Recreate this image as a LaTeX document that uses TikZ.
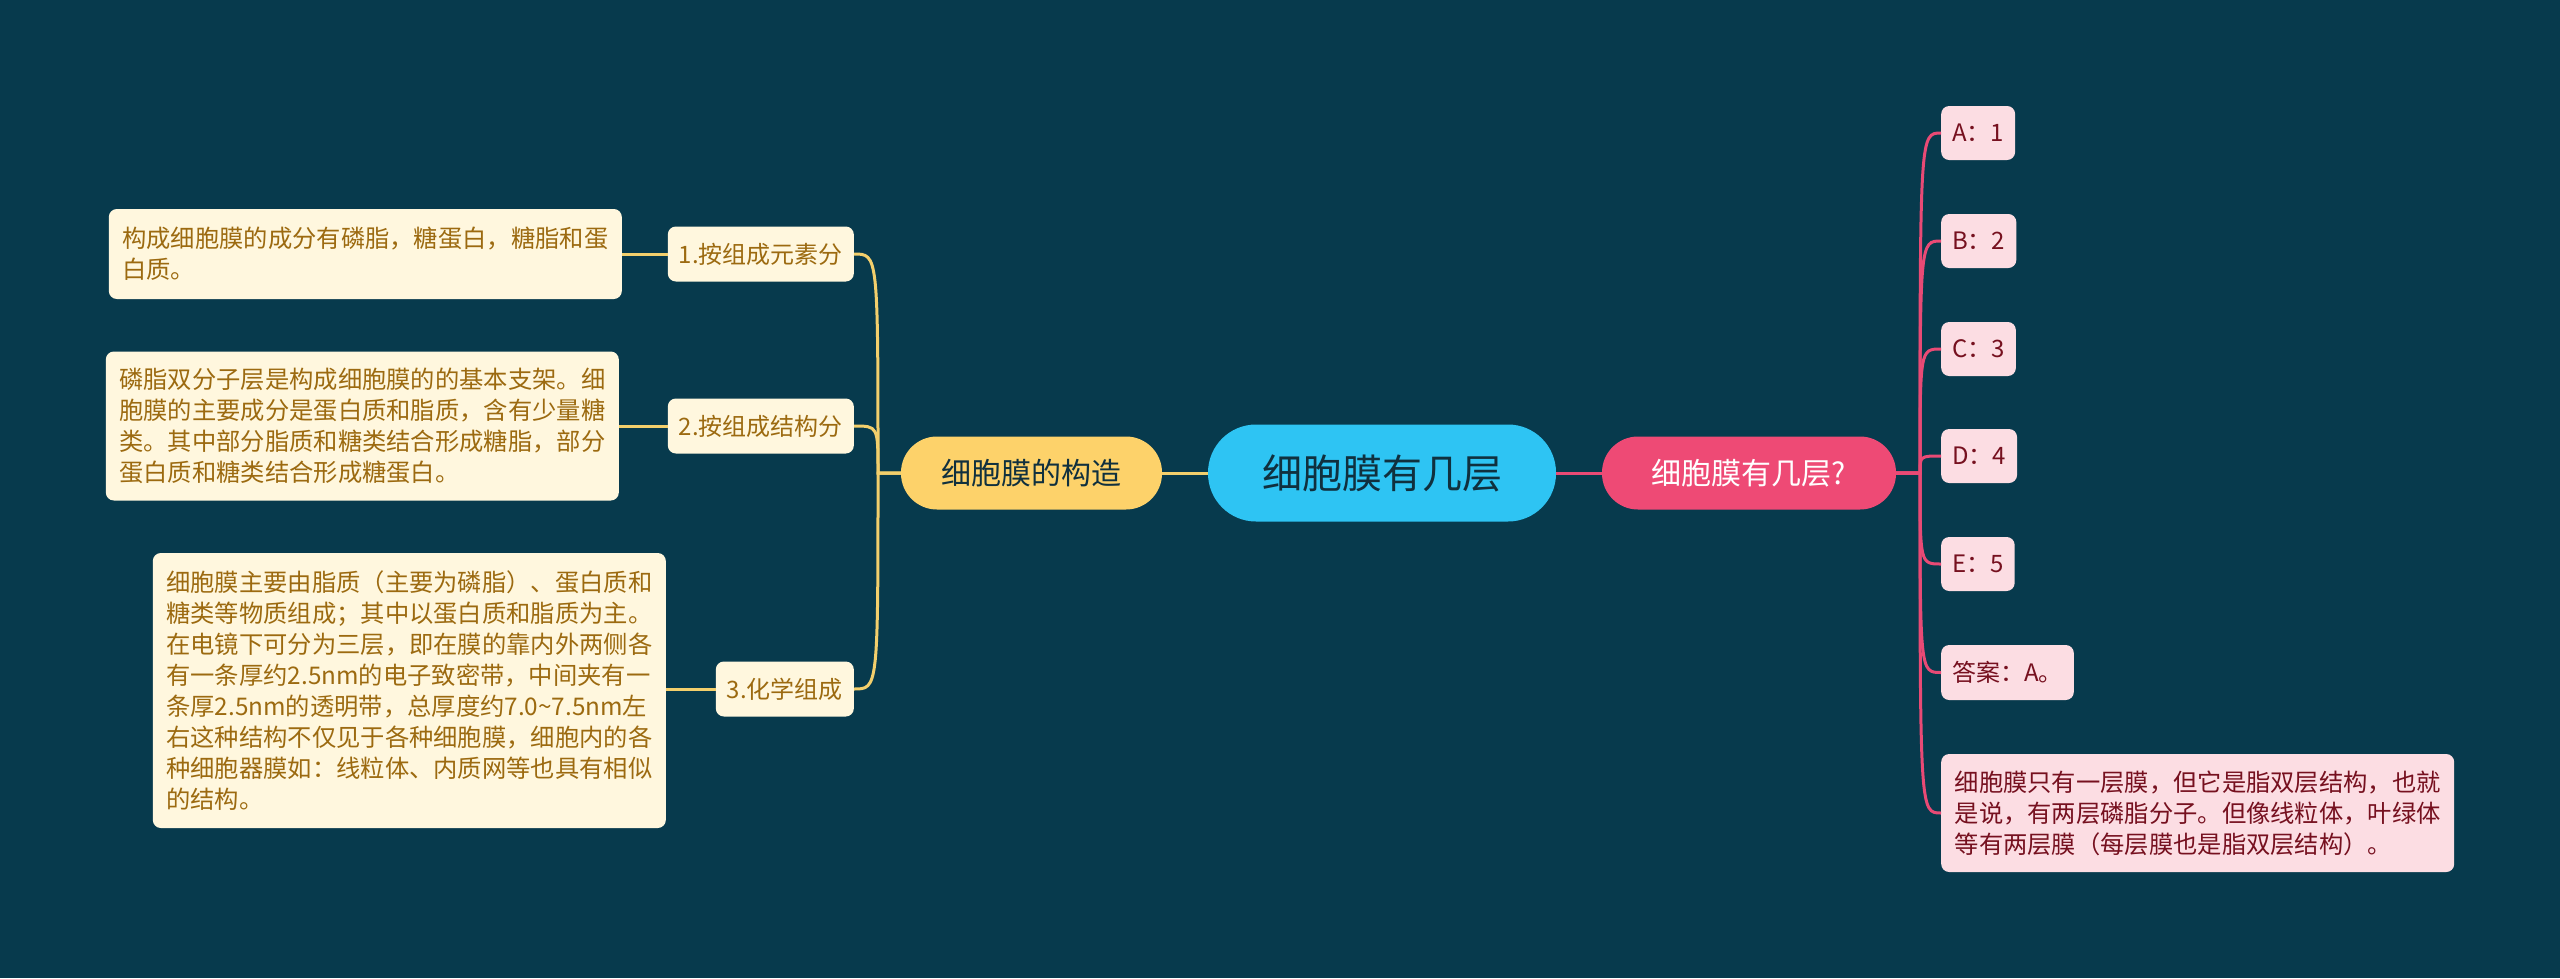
\documentclass[tikz,border=0pt]{standalone}
\usepackage{fontspec}
\setmainfont{Noto Sans CJK SC}
\definecolor{bg}{HTML}{073A4D}
\definecolor{rootc}{HTML}{2EC4F3}
\definecolor{roottxt}{HTML}{10303E}
\definecolor{yel}{HTML}{FDD26A}
\definecolor{yline}{HTML}{F3CF6C}
\definecolor{cream}{HTML}{FFF7DE}
\definecolor{brn}{HTML}{9C6A10}
\definecolor{pinkm}{HTML}{EE4A75}
\definecolor{pline}{HTML}{E94A75}
\definecolor{pinkl}{HTML}{FCDDE3}
\definecolor{dred}{HTML}{76101F}
\begin{document}
\begin{tikzpicture}[x=1pt,y=-1pt,
  rootbox/.style={fill=rootc,text=roottxt,rounded corners=48pt,minimum width=348pt,minimum height=97pt,inner sep=0pt,font=\fontsize{40}{48}\selectfont},
  mainbox/.style={rounded corners=36pt,minimum height=73pt,inner sep=0pt,font=\fontsize{30}{36}\selectfont},
  subbox/.style={fill=cream,text=brn,rounded corners=8pt,minimum height=55pt,inner xsep=11pt,inner ysep=0pt,font=\fontsize{24}{31}\selectfont},
  leafl/.style={fill=cream,text=brn,rounded corners=8pt,align=left,text width=486pt,inner xsep=13.5pt,inner ysep=0pt,font=\fontsize{24.3}{31}\selectfont},
  leafr/.style={fill=pinkl,text=dred,rounded corners=8pt,minimum height=54pt,inner xsep=11pt,inner ysep=0pt,font=\fontsize{24}{31}\selectfont},
  leafrl/.style={fill=pinkl,text=dred,rounded corners=8pt,align=left,text width=486pt,inner xsep=13.5pt,inner ysep=0pt,font=\fontsize{24.3}{31}\selectfont},
  yconn/.style={draw=yline,line width=3pt},
  pconn/.style={draw=pline,line width=3pt}]
\fill[bg] (0,0) rectangle (2560,978);
\useasboundingbox (0,0) rectangle (2560,978);

% central
\node[rootbox] (root) at (1382,473) {细胞膜有几层};
\node[mainbox,fill=yel,text=roottxt,minimum width=261pt] (gz) at (1031.5,473) {细胞膜的构造};
\node[mainbox,fill=pinkm,text=white,minimum width=294pt] (jc) at (1749,473) {细胞膜有几层?};

% left subs
\node[subbox,anchor=east] (s1) at (854,254) {1.按组成元素分};
\node[subbox,anchor=east] (s2) at (854,426) {2.按组成结构分};
\node[subbox,anchor=east] (s3) at (854,689) {3.化学组成};

% left leaves
\node[leafl,anchor=east,minimum height=90pt] (l1) at (622,254) {构成细胞膜的成分有磷脂，糖蛋白，糖脂和蛋\\白质。};
\node[leafl,anchor=east,minimum height=149pt] (l2) at (619,426) {磷脂双分子层是构成细胞膜的的基本支架。细\\胞膜的主要成分是蛋白质和脂质，含有少量糖\\类。其中部分脂质和糖类结合形成糖脂，部分\\蛋白质和糖类结合形成糖蛋白。};
\node[leafl,anchor=east,minimum height=275pt] (l3) at (666,690.5) {细胞膜主要由脂质（主要为磷脂）、蛋白质和\\糖类等物质组成；其中以蛋白质和脂质为主。\\在电镜下可分为三层，即在膜的靠内外两侧各\\有一条厚约2.5nm的电子致密带，中间夹有一\\条厚2.5nm的透明带，总厚度约7.0\textasciitilde7.5nm左\\右这种结构不仅见于各种细胞膜，细胞内的各\\种细胞器膜如：线粒体、内质网等也具有相似\\的结构。};

% right leaves
\node[leafr,anchor=west] (ra) at (1941,133) {A：1};
\node[leafr,anchor=west] (rb) at (1941,241) {B：2};
\node[leafr,anchor=west] (rc) at (1941,349) {C：3};
\node[leafr,anchor=west] (rd) at (1941,456) {D：4};
\node[leafr,anchor=west] (re) at (1941,564) {E：5};
\node[leafr,anchor=west,minimum height=55pt] (rf) at (1941,672.5) {答案：A。};
\node[leafrl,anchor=west,minimum height=118pt] (rg) at (1941,813) {细胞膜只有一层膜，但它是脂双层结构，也就\\是说，有两层磷脂分子。但像线粒体，叶绿体\\等有两层膜（每层膜也是脂双层结构）。};

% connectors
\coordinate (lt) at (878,473);
\coordinate (rt) at (1920,473);
\draw[yconn] (root.west) -- (gz.east);
\draw[pconn] (root.east) -- (jc.west);
\foreach \n in {s1,s2,s3}{
  \draw[yconn] (gz.west) -- (lt) .. controls (lt |- \n.east) .. (\n.east);
}
\draw[yconn] (s1.west) -- (l1.east);
\draw[yconn] (s2.west) -- (l2.east |- s2.west);
\draw[yconn] (s3.west) -- (l3.east |- s3.west);
\foreach \n in {ra,rb,rc,rd,re,rf,rg}{
  \draw[pconn] (jc.east) -- (rt) .. controls (rt |- \n.west) .. (\n.west);
}
\end{tikzpicture}
\end{document}
